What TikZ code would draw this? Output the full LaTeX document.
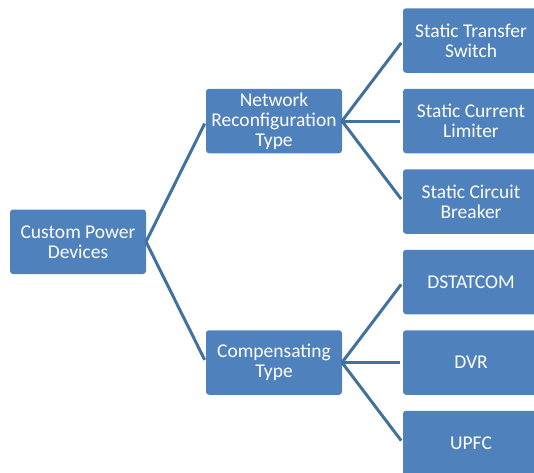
\documentclass[tikz,border=0pt]{standalone}
\usepackage{fontspec}
\setmainfont{Carlito}
\usetikzlibrary{positioning, calc}

\definecolor{boxblue}{HTML}{4F81BD}
\definecolor{linkblue}{HTML}{41719C}

\begin{document}
\begin{tikzpicture}[
    box/.style={fill=boxblue, text=white, align=center, rounded corners=3pt, outer sep=0pt, inner ysep=1pt, minimum height=64.5pt, minimum width=136pt, font=\fontsize{19.5}{20}\selectfont},
    link/.style={draw=linkblue, line width=3pt, shorten >=3pt}
]{
    \useasboundingbox (0,0) rectangle (534pt,-472pt);
    \clip (0,0) rectangle (534pt,-472pt);

    % right column
    \node[box](transfer_switch) at (471pt,-40.5pt){Static Transfer\\Switch};
    \node[box, below=16pt of transfer_switch](current_limiter){Static Current\\Limiter};
    \node[box, below=16pt of current_limiter](circuit_breaker){Static Circuit\\Breaker};
    \node[box, below=16pt of circuit_breaker](dstatcom){DSTATCOM};
    \node[box, below=16pt of dstatcom](dvr){DVR};
    \node[box, below=16pt of dvr](upfc){UPFC};

    % middle column
    \node[box, left=61pt of current_limiter](network_type){Network\\Reconfiguration\\Type};
    \node[box, left=61pt of dvr](compensating_type){Compensating\\Type};

    % root
    \coordinate (mid) at ($(network_type.west)!0.5!(compensating_type.west)$);
    \node[box, left=60pt of mid](power_devices){Custom Power\\Devices};

    \draw[link](power_devices.east) -- (network_type.west);
    \draw[link](power_devices.east) -- (compensating_type.west);

    \draw[link](network_type.east) -- (transfer_switch.west);
    \draw[link](network_type.east) -- (current_limiter.west);
    \draw[link](network_type.east) -- (circuit_breaker.west);

    \draw[link](compensating_type.east) -- (dstatcom.west);
    \draw[link](compensating_type.east) -- (dvr.west);
    \draw[link](compensating_type.east) -- (upfc.west);
}
\end{tikzpicture}
\end{document}
